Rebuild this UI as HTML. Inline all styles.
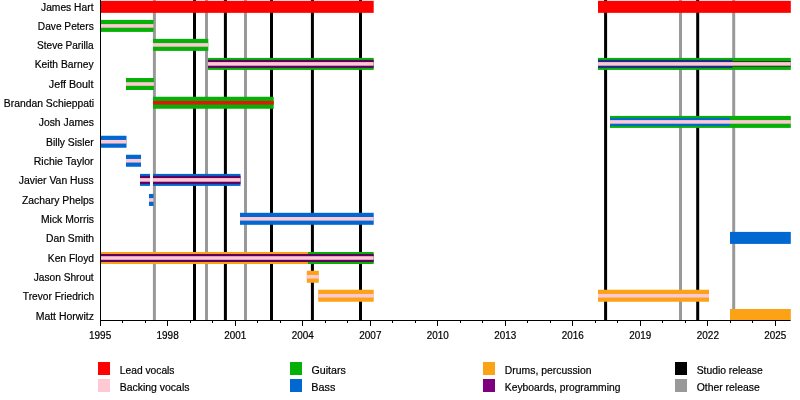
<!DOCTYPE html><html><head><meta charset="utf-8"><style>html,body{margin:0;padding:0;background:#fff;width:800px;height:400px;overflow:hidden}svg{display:block;will-change:transform}text{font-family:"Liberation Sans",sans-serif;fill:#000;stroke:#000;stroke-width:0.2px}</style></head><body>
<svg width="800" height="400" viewBox="0 0 800 400">
<rect width="800" height="400" fill="#fff"/>
<rect x="152.90" y="0" width="3" height="320" fill="#999999"/>
<rect x="193.00" y="0" width="3" height="320" fill="#000000"/>
<rect x="205.00" y="0" width="3" height="320" fill="#999999"/>
<rect x="223.90" y="0" width="3" height="320" fill="#000000"/>
<rect x="244.00" y="0" width="3" height="320" fill="#999999"/>
<rect x="270.00" y="0" width="3" height="320" fill="#000000"/>
<rect x="310.90" y="0" width="3" height="320" fill="#000000"/>
<rect x="359.00" y="0" width="3" height="320" fill="#000000"/>
<rect x="604.10" y="0" width="3" height="320" fill="#000000"/>
<rect x="679.00" y="0" width="3" height="320" fill="#999999"/>
<rect x="696.20" y="0" width="3" height="320" fill="#000000"/>
<rect x="732.20" y="0" width="3" height="320" fill="#999999"/>
<rect x="100" y="0.85" width="273.70" height="12" fill="#ff0000"/>
<rect x="598" y="0.85" width="192.80" height="12" fill="#ff0000"/>
<rect x="100" y="19.90" width="53.50" height="12" fill="#06b006"/>
<rect x="100" y="24.10" width="53.50" height="3.6" fill="#ffc9d4"/>
<rect x="153" y="38.90" width="55.30" height="12" fill="#06b006"/>
<rect x="153" y="43.10" width="55.30" height="3.6" fill="#ffc9d4"/>
<rect x="208" y="57.90" width="165.70" height="12" fill="#06b006"/>
<rect x="208" y="59.90" width="165.70" height="8" fill="#5e005e"/>
<rect x="208" y="62.10" width="165.70" height="3.6" fill="#ffc9d4"/>
<rect x="598" y="57.90" width="192.80" height="12" fill="#06b006"/>
<rect x="598" y="59.90" width="134.50" height="8" fill="#1c2c88"/>
<rect x="732.5" y="61.10" width="58.30" height="5.6" fill="#263626"/>
<rect x="598" y="62.10" width="192.80" height="3.6" fill="#ffc9d4"/>
<rect x="126" y="78.00" width="27.90" height="12" fill="#06b006"/>
<rect x="126" y="82.20" width="27.90" height="3.6" fill="#ffc9d4"/>
<rect x="153" y="96.75" width="120.70" height="12" fill="#06b006"/>
<rect x="153" y="100.95" width="120.70" height="3.6" fill="#dc1a0a"/>
<rect x="610" y="115.90" width="180.80" height="12" fill="#06b006"/>
<rect x="610" y="117.90" width="120.00" height="8" fill="#0068d0"/>
<rect x="610" y="120.10" width="180.80" height="3.6" fill="#ffc9d4"/>
<rect x="100" y="135.75" width="26.50" height="12" fill="#0068d0"/>
<rect x="100" y="139.95" width="26.50" height="3.6" fill="#ffc9d4"/>
<rect x="126" y="154.75" width="15.00" height="12" fill="#0068d0"/>
<rect x="126" y="158.95" width="15.00" height="3.6" fill="#ffc9d4"/>
<rect x="140" y="173.90" width="10.00" height="12" fill="#0068d0"/>
<rect x="140" y="175.90" width="10.00" height="8" fill="#5e005e"/>
<rect x="140" y="178.10" width="10.00" height="3.6" fill="#ffc9d4"/>
<rect x="153" y="173.90" width="87.50" height="12" fill="#0068d0"/>
<rect x="153" y="175.90" width="87.50" height="8" fill="#5e005e"/>
<rect x="153" y="178.10" width="87.50" height="3.6" fill="#ffc9d4"/>
<rect x="149" y="193.95" width="4.50" height="12" fill="#0068d0"/>
<rect x="149" y="198.15" width="4.50" height="3.6" fill="#ffc9d4"/>
<rect x="240" y="212.80" width="133.70" height="12" fill="#0068d0"/>
<rect x="240" y="217.00" width="133.70" height="3.6" fill="#ffc9d4"/>
<rect x="730" y="231.90" width="60.80" height="12" fill="#0068d0"/>
<rect x="100" y="252.00" width="208.00" height="12" fill="#fba216"/>
<rect x="308" y="252.00" width="65.70" height="12" fill="#06b006"/>
<rect x="100" y="254.00" width="273.70" height="8" fill="#5e005e"/>
<rect x="100" y="256.20" width="273.70" height="3.6" fill="#ffc9d4"/>
<rect x="306.8" y="270.75" width="12.00" height="12" fill="#fba216"/>
<rect x="306.8" y="274.95" width="12.00" height="3.6" fill="#ffc9d4"/>
<rect x="318.2" y="289.75" width="55.50" height="12" fill="#fba216"/>
<rect x="318.2" y="293.95" width="55.50" height="3.6" fill="#ffc9d4"/>
<rect x="598" y="289.75" width="111.00" height="12" fill="#fba216"/>
<rect x="598" y="293.95" width="111.00" height="3.6" fill="#ffc9d4"/>
<rect x="730" y="309.00" width="60.80" height="12" fill="#fba216"/>
<rect x="100" y="0" width="1" height="326" fill="#000"/>
<rect x="100" y="320" width="690.5" height="1" fill="#000"/>
<rect x="100" y="320" width="1" height="6" fill="#000"/>
<text transform="translate(88.99,338.75) scale(0.9528,1)" font-size="10.5">1995</text>
<rect x="122" y="320" width="1" height="3" fill="#000"/>
<rect x="145" y="320" width="1" height="3" fill="#000"/>
<rect x="167" y="320" width="1" height="6" fill="#000"/>
<text transform="translate(156.49,338.75) scale(0.9528,1)" font-size="10.5">1998</text>
<rect x="190" y="320" width="1" height="3" fill="#000"/>
<rect x="212" y="320" width="1" height="3" fill="#000"/>
<rect x="235" y="320" width="1" height="6" fill="#000"/>
<text transform="translate(224.23,338.75) scale(0.9422,1)" font-size="10.5">2001</text>
<rect x="257" y="320" width="1" height="3" fill="#000"/>
<rect x="280" y="320" width="1" height="3" fill="#000"/>
<rect x="302" y="320" width="1" height="6" fill="#000"/>
<text transform="translate(291.73,338.75) scale(0.9422,1)" font-size="10.5">2004</text>
<rect x="325" y="320" width="1" height="3" fill="#000"/>
<rect x="347" y="320" width="1" height="3" fill="#000"/>
<rect x="370" y="320" width="1" height="6" fill="#000"/>
<text transform="translate(359.22,338.75) scale(0.9528,1)" font-size="10.5">2007</text>
<rect x="392" y="320" width="1" height="3" fill="#000"/>
<rect x="415" y="320" width="1" height="3" fill="#000"/>
<rect x="437" y="320" width="1" height="6" fill="#000"/>
<text transform="translate(426.73,338.75) scale(0.9422,1)" font-size="10.5">2010</text>
<rect x="460" y="320" width="1" height="3" fill="#000"/>
<rect x="482" y="320" width="1" height="3" fill="#000"/>
<rect x="505" y="320" width="1" height="6" fill="#000"/>
<text transform="translate(494.23,338.75) scale(0.9422,1)" font-size="10.5">2013</text>
<rect x="527" y="320" width="1" height="3" fill="#000"/>
<rect x="550" y="320" width="1" height="3" fill="#000"/>
<rect x="572" y="320" width="1" height="6" fill="#000"/>
<text transform="translate(561.73,338.75) scale(0.9422,1)" font-size="10.5">2016</text>
<rect x="595" y="320" width="1" height="3" fill="#000"/>
<rect x="617" y="320" width="1" height="3" fill="#000"/>
<rect x="640" y="320" width="1" height="6" fill="#000"/>
<text transform="translate(629.23,338.75) scale(0.9422,1)" font-size="10.5">2019</text>
<rect x="662" y="320" width="1" height="3" fill="#000"/>
<rect x="685" y="320" width="1" height="3" fill="#000"/>
<rect x="707" y="320" width="1" height="6" fill="#000"/>
<text transform="translate(696.72,338.75) scale(0.9528,1)" font-size="10.5">2022</text>
<rect x="730" y="320" width="1" height="3" fill="#000"/>
<rect x="752" y="320" width="1" height="3" fill="#000"/>
<rect x="775" y="320" width="1" height="6" fill="#000"/>
<text transform="translate(764.23,338.75) scale(0.9422,1)" font-size="10.5">2025</text>
<text transform="translate(41.02,11.05) scale(0.9348,1)" font-size="11">James Hart</text>
<text transform="translate(37.82,30.10) scale(0.9257,1)" font-size="11">Dave Peters</text>
<text transform="translate(37.04,49.10) scale(0.9159,1)" font-size="11">Steve Parilla</text>
<text transform="translate(34.66,68.10) scale(0.9355,1)" font-size="11">Keith Barney</text>
<text transform="translate(48.86,88.20) scale(0.9780,1)" font-size="11">Jeff Boult</text>
<text transform="translate(3.81,106.95) scale(0.9427,1)" font-size="11">Brandan Schieppati</text>
<text transform="translate(38.76,126.10) scale(0.9414,1)" font-size="11">Josh James</text>
<text transform="translate(45.96,145.95) scale(0.9434,1)" font-size="11">Billy Sisler</text>
<text transform="translate(33.80,164.95) scale(0.9530,1)" font-size="11">Richie Taylor</text>
<text transform="translate(18.76,184.10) scale(0.9473,1)" font-size="11">Javier Van Huss</text>
<text transform="translate(22.01,204.15) scale(0.9419,1)" font-size="11">Zachary Phelps</text>
<text transform="translate(40.96,223.00) scale(0.9443,1)" font-size="11">Mick Morris</text>
<text transform="translate(45.96,242.10) scale(0.9387,1)" font-size="11">Dan Smith</text>
<text transform="translate(47.82,262.20) scale(0.9344,1)" font-size="11">Ken Floyd</text>
<text transform="translate(33.77,280.95) scale(0.9240,1)" font-size="11">Jason Shrout</text>
<text transform="translate(22.87,299.95) scale(0.9246,1)" font-size="11">Trevor Friedrich</text>
<text transform="translate(35.65,319.80) scale(0.9540,1)" font-size="11">Matt Horwitz</text>
<rect x="98" y="362" width="12" height="13" fill="#ff0000"/>
<text transform="translate(119.77,374.00) scale(0.9773,1)" font-size="10.5">Lead vocals</text>
<rect x="98" y="379" width="12" height="13" fill="#ffc9d4"/>
<text transform="translate(119.75,390.50) scale(0.9964,1)" font-size="10.5">Backing vocals</text>
<rect x="290" y="362" width="12" height="13" fill="#06b006"/>
<text transform="translate(311.49,374.00) scale(1.0152,1)" font-size="10.5">Guitars</text>
<rect x="290" y="379" width="12" height="13" fill="#0068d0"/>
<text transform="translate(311.22,390.50) scale(1.0337,1)" font-size="10.5">Bass</text>
<rect x="483" y="362" width="12" height="13" fill="#fba216"/>
<text transform="translate(504.86,374.00) scale(0.9901,1)" font-size="10.5">Drums, percussion</text>
<rect x="483" y="379" width="12" height="13" fill="#7d007d"/>
<text transform="translate(504.86,390.50) scale(0.9811,1)" font-size="10.5">Keyboards, programming</text>
<rect x="675" y="362" width="12" height="13" fill="#000000"/>
<text transform="translate(696.66,374.00) scale(0.9864,1)" font-size="10.5">Studio release</text>
<rect x="675" y="379" width="12" height="13" fill="#999999"/>
<text transform="translate(696.65,390.50) scale(0.9936,1)" font-size="10.5">Other release</text>
</svg></body></html>
